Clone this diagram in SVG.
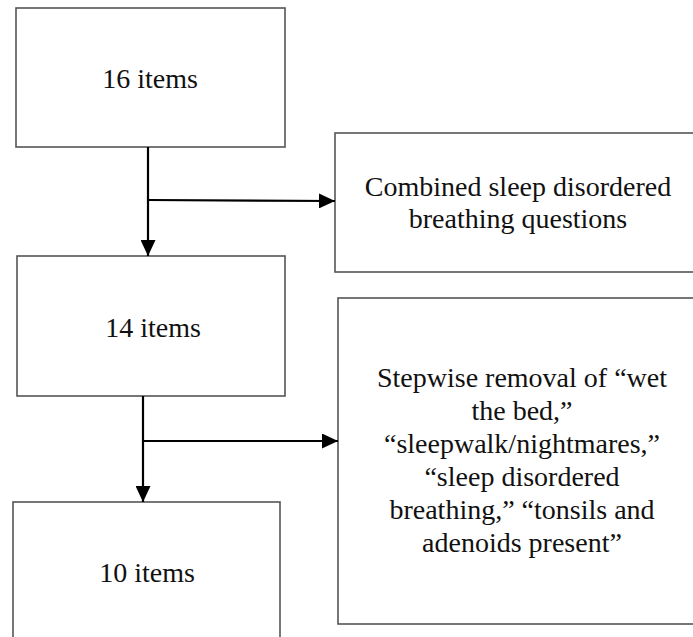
<svg xmlns="http://www.w3.org/2000/svg" width="693" height="637" viewBox="0 0 693 637">
<defs>
<style>
.box{fill:#fff;stroke:#555;stroke-width:1.6}
.conn{stroke:#000;stroke-width:2.2;fill:none}
</style>
<marker id="ah" markerUnits="userSpaceOnUse" markerWidth="16" markerHeight="15" refX="16" refY="7.5" orient="auto">
<path d="M0,0 L16,7.5 L0,15 Z" fill="#000"/>
</marker>
</defs>
<rect width="693" height="637" fill="#fff"/>
<g id="n16">
<rect class="box" x="16" y="8" width="269" height="139"/>
<text x="150" y="88" font-family="Liberation Serif" font-size="28" fill="#111" text-anchor="middle">16 items</text>
</g>
<g id="ncombined">
<rect class="box" x="335" y="133" width="370" height="139"/>
<text x="518" y="196" font-family="Liberation Serif" font-size="28" fill="#111" text-anchor="middle">Combined sleep disordered</text>
<text x="518" y="228" font-family="Liberation Serif" font-size="28" fill="#111" text-anchor="middle">breathing questions</text>
</g>
<g id="n14">
<rect class="box" x="17" y="256" width="268" height="140"/>
<text x="153" y="337" font-family="Liberation Serif" font-size="28" fill="#111" text-anchor="middle">14 items</text>
</g>
<g id="nstepwise">
<rect class="box" x="338" y="298" width="370" height="326"/>
<text x="522" y="387" font-family="Liberation Serif" font-size="28" fill="#111" text-anchor="middle">Stepwise removal of “wet</text>
<text x="522" y="420" font-family="Liberation Serif" font-size="28" fill="#111" text-anchor="middle">the bed,”</text>
<text x="522" y="453" font-family="Liberation Serif" font-size="28" fill="#111" text-anchor="middle">“sleepwalk/nightmares,”</text>
<text x="522" y="486" font-family="Liberation Serif" font-size="28" fill="#111" text-anchor="middle">“sleep disordered</text>
<text x="522" y="519" font-family="Liberation Serif" font-size="28" fill="#111" text-anchor="middle">breathing,” “tonsils and</text>
<text x="522" y="552" font-family="Liberation Serif" font-size="28" fill="#111" text-anchor="middle">adenoids present”</text>
</g>
<g id="n10">
<rect class="box" x="13" y="502" width="267" height="160"/>
<text x="147" y="582" font-family="Liberation Serif" font-size="28" fill="#111" text-anchor="middle">10 items</text>
</g>
<g id="connectors">
<line class="conn" x1="148" y1="147" x2="148" y2="256" marker-end="url(#ah)"/>
<line class="conn" x1="148" y1="200" x2="335" y2="201" marker-end="url(#ah)"/>
<line class="conn" x1="143" y1="396" x2="143" y2="502" marker-end="url(#ah)"/>
<line class="conn" x1="143" y1="441" x2="338" y2="441" marker-end="url(#ah)"/>
</g>
</svg>
